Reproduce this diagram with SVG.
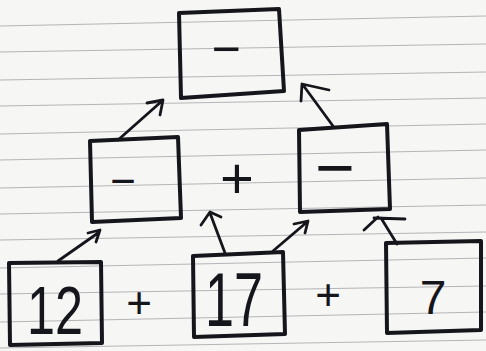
<svg xmlns="http://www.w3.org/2000/svg" width="486" height="351" viewBox="0 0 486 351">
<style>
.box{fill:none;stroke:#15151c;stroke-width:4;stroke-linejoin:round}
.rule{stroke:#9a9aa0;stroke-width:1.2;opacity:0.7}
.lbl{font-family:"Liberation Sans",Arial,sans-serif;fill:#15151c;text-anchor:middle}
.conn{fill:none;stroke:#15151c;stroke-width:2.8;stroke-linecap:round;stroke-linejoin:round}
</style>
<rect width="486" height="351" fill="#f6f6f5"/>
<g id="paper-lines">
<line class="rule" x1="0" y1="26" x2="486" y2="16"/>
<line class="rule" x1="0" y1="52" x2="486" y2="44"/>
<line class="rule" x1="0" y1="80" x2="486" y2="72"/>
<line class="rule" x1="0" y1="106" x2="486" y2="98"/>
<line class="rule" x1="0" y1="134" x2="486" y2="124"/>
<line class="rule" x1="0" y1="160" x2="486" y2="150"/>
<line class="rule" x1="0" y1="188" x2="486" y2="178"/>
<line class="rule" x1="0" y1="214" x2="486" y2="205"/>
<line class="rule" x1="0" y1="240" x2="486" y2="232"/>
<line class="rule" x1="0" y1="268" x2="486" y2="258"/>
<line class="rule" x1="0" y1="294" x2="486" y2="286"/>
<line class="rule" x1="0" y1="322" x2="486" y2="312"/>
<line class="rule" x1="0" y1="348" x2="486" y2="340"/>
</g>
<g id="connectors">
<path class="conn" d="M118,140 L162,101 M147,103 L163,100 L160,115"/>
<path class="conn" d="M333,126 L303,85 M301,101 L302,84 L329,90"/>
<path class="conn" d="M58,261 L98,233 M88,233 L100,230 L96,242"/>
<path class="conn" d="M225,253 L210,213 M201,225 L210,212 L221,217"/>
<path class="conn" d="M273,251 L307,222 M294,224 L308,221 L305,233"/>
<path class="conn" d="M397,244 L381,218 M364,230 L378,217 M374,218 L405,219"/>
</g>
<g id="node-top">
<path class="box" d="M179,13 L279,9 L284,91 L181,98 Z"/>
<text class="lbl" x="226" y="66" font-size="50">−</text>
</g>
<g id="node-mid-left">
<path class="box" d="M90,141 L178,137 L181,218 L92,222 Z"/>
<text class="lbl" x="123" y="196" font-size="44">−</text>
</g>
<g id="op-plus-mid">
<text class="lbl" x="237" y="198" font-size="58">+</text>
</g>
<g id="node-mid-right">
<path class="box" d="M299,130 L387,124 L390,209 L300,212 Z"/>
<text class="lbl" x="335" y="191" font-size="68">−</text>
</g>
<g id="node-12">
<path class="box" d="M9,263 L101,262 L102,343 L10,345 Z"/>
<text class="lbl" x="55" y="334" font-size="68" textLength="56" lengthAdjust="spacingAndGlyphs">12</text>
</g>
<g id="op-plus-1">
<text class="lbl" x="139" y="318" font-size="44">+</text>
</g>
<g id="node-17">
<path class="box" d="M193,256 L283,252 L285,334 L194,337 Z"/>
<text class="lbl" x="234" y="326" font-size="76" textLength="58" lengthAdjust="spacingAndGlyphs">17</text>
</g>
<g id="op-plus-2">
<text class="lbl" x="328" y="310" font-size="44">+</text>
</g>
<g id="node-7">
<path class="box" d="M386,243 L481,241 L481,330 L387,333 Z"/>
<text class="lbl" x="433" y="314" font-size="48">7</text>
</g>
</svg>
